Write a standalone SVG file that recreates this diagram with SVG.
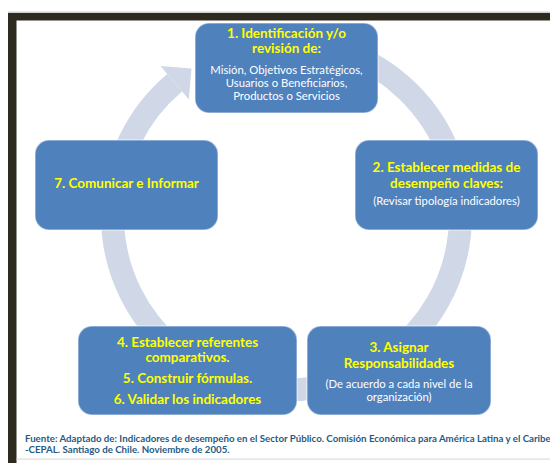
<svg xmlns="http://www.w3.org/2000/svg" width="550" height="463" viewBox="0 0 550 463">
<style>
.node{fill:#4f81bd;stroke:#ffffff;stroke-opacity:0.45;stroke-width:1.5}
.t{font-family:Lato,"Liberation Sans",sans-serif;font-weight:bold;fill:#ffff00;font-size:13.5px;text-anchor:middle}
.s{font-family:Lato,"Liberation Sans",sans-serif;fill:#ffffff;font-size:11.3px;text-anchor:middle}
.f{font-family:Lato,"Liberation Sans",sans-serif;font-weight:bold;fill:#1f5b84;font-size:9.7px}
</style>
<rect x="0" y="0" width="550" height="463" fill="#ffffff"/>
<g id="frame">
<rect x="8" y="11.5" width="542" height="1.5" fill="#cfcfcf"/>
<rect x="8" y="13" width="542" height="7.5" fill="#2e2a1f"/>
<rect x="8" y="13" width="8.5" height="450" fill="#2e2a1f"/>
<rect x="16.5" y="458.5" width="533.5" height="1.2" fill="#dcdcdc"/>
</g>
<g id="connectors">
<path d="M346 52.5 A174 174 0 1 1 174.65 82.71" fill="none" stroke="#d0d8e8" stroke-width="23"/>
<polygon points="160.5,65.9 191.5,68.6 188.8,99.6" fill="#d0d8e8"/>
</g>
<g id="n1">
<rect class="node" x="195" y="23" width="183" height="90" rx="14"/>
<text class="t" x="286.5" y="38">1. Identificación y/o</text>
<text class="t" x="286.5" y="53">revisión de:</text>
<text class="s" x="286.5" y="74">Misión, Objetivos Estratégicos,</text>
<text class="s" x="286.5" y="87">Usuarios o Beneficiarios,</text>
<text class="s" x="286.5" y="100">Productos o Servicios</text>
</g>
<g id="n2">
<rect class="node" x="355" y="140" width="183" height="90" rx="14"/>
<text class="t" x="446.5" y="172">2. Establecer medidas de</text>
<text class="t" x="446.5" y="188">desempeño claves:</text>
<text class="s" x="446.5" y="205">(Revisar tipología indicadores)</text>
</g>
<g id="n3">
<rect class="node" x="307" y="326" width="184" height="89" rx="14"/>
<text class="t" x="399" y="352">3. Asignar</text>
<text class="t" x="399" y="368">Responsabilidades</text>
<text class="s" x="399" y="388">(De acuerdo a cada nivel de la</text>
<text class="s" x="399" y="401">organización)</text>
</g>
<g id="n4">
<rect class="node" x="78" y="326" width="219" height="89" rx="14"/>
<text class="t" x="187.5" y="347">4. Establecer referentes</text>
<text class="t" x="187.5" y="362">comparativos.</text>
<text class="t" x="187.5" y="383">5. Construir fórmulas.</text>
<text class="t" x="187.5" y="404">6. Validar los indicadores</text>
</g>
<g id="n7">
<rect class="node" x="35" y="140" width="183" height="90" rx="14"/>
<text class="t" x="126.5" y="188">7. Comunicar e Informar</text>
</g>
<g id="footer">
<text class="f" x="25" y="441.5">Fuente: Adaptado de: Indicadores de desempeño en el Sector Público. Comisión Económica para América Latina y el Caribe</text>
<text class="f" x="25" y="453">-CEPAL. Santiago de Chile. Noviembre de 2005.</text>
</g>
</svg>
